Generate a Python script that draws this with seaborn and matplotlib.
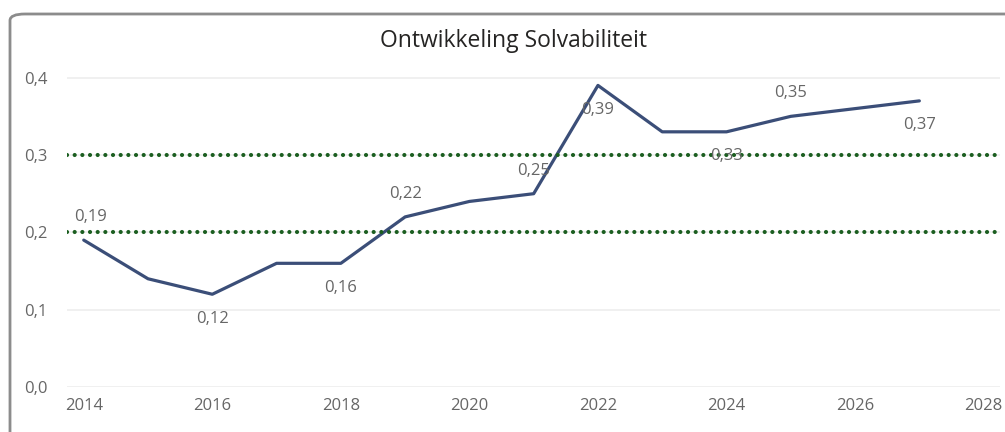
import matplotlib
matplotlib.use("Agg")
import matplotlib.pyplot as plt
import seaborn as sns
import pandas as pd
from matplotlib.patches import FancyBboxPatch

years = [2014, 2015, 2016, 2017, 2018, 2019, 2020, 2021, 2022, 2023, 2024, 2025, 2026, 2027]
solvabiliteit = [0.19, 0.14, 0.12, 0.16, 0.16, 0.22, 0.24, 0.25, 0.39, 0.33, 0.33, 0.35, 0.36, 0.37]
label_years = [2014, 2016, 2018, 2019, 2021, 2022, 2024, 2025, 2027]
label_pos = ["above", "below", "below", "above", "above", "below", "below", "above", "below"]
reference_lines = [0.2, 0.3]
title = "Ontwikkeling Solvabiliteit"

sns.set_theme(style="white")
plt.rcParams['font.family'] = ['Open Sans', 'DejaVu Sans']

df = pd.DataFrame({"jaar": years, "solvabiliteit": solvabiliteit})

fig = plt.figure(figsize=(10.05, 4.32), dpi=100)
ax = fig.add_axes([0.0667, 0.104, 0.928, 0.752])

# background rounded frame
frame = FancyBboxPatch((10/1005, -0.2), 1.2, (432-14)/432 + 0.2,
                       boxstyle="round,pad=0,rounding_size=0.015",
                       transform=fig.transFigure, fill=False,
                       edgecolor="#8c8c8c", linewidth=2, zorder=-1)
fig.patches.append(frame)

ax.set_xlim(2013.74, 2028.25)
ax.set_ylim(0, 0.42)
ax.set_yticks([0.0, 0.1, 0.2, 0.3, 0.4])
ax.set_yticklabels([f"{v:.1f}".replace(".", ",") for v in [0.0, 0.1, 0.2, 0.3, 0.4]])
ax.set_xticks([2014, 2016, 2018, 2020, 2022, 2024, 2026, 2028])
ax.grid(axis="y", color="#eeeeee", linewidth=1.2)
ax.set_axisbelow(True)
for s in ax.spines.values():
    s.set_visible(False)
ax.tick_params(axis="both", colors="#666666", labelsize=12, length=0)
ax.tick_params(axis="x", pad=8)
ax.tick_params(axis="y", pad=14)
for lbl in ax.get_xticklabels() + ax.get_yticklabels():
    lbl.set_color("#666666")

for r in reference_lines:
    ax.axhline(r, color="#1b5e20", linewidth=3, linestyle=(0, (0.01, 1.83)),
               dash_capstyle="round", zorder=3)

sns.lineplot(data=df, x="jaar", y="solvabiliteit", ax=ax, color="#3b4e78",
             linewidth=2.3, zorder=2)

for yr, pos in zip(label_years, label_pos):
    v = solvabiliteit[years.index(yr)]
    dy = 16.5 if pos == "above" else -17.5
    ax.annotate(f"{v:.2f}".replace(".", ","), (yr, v), xytext=(5 if yr == 2014 else 0, dy),
                textcoords="offset points", ha="center", va="center",
                fontsize=12, color="#666666", zorder=4)

ax.set_xlabel("")
ax.set_ylabel("")
fig.text(0.511, 0.905, title, ha="center", va="center", fontsize=16.5, color="#252423")

fig.savefig("out.png", dpi=100)
